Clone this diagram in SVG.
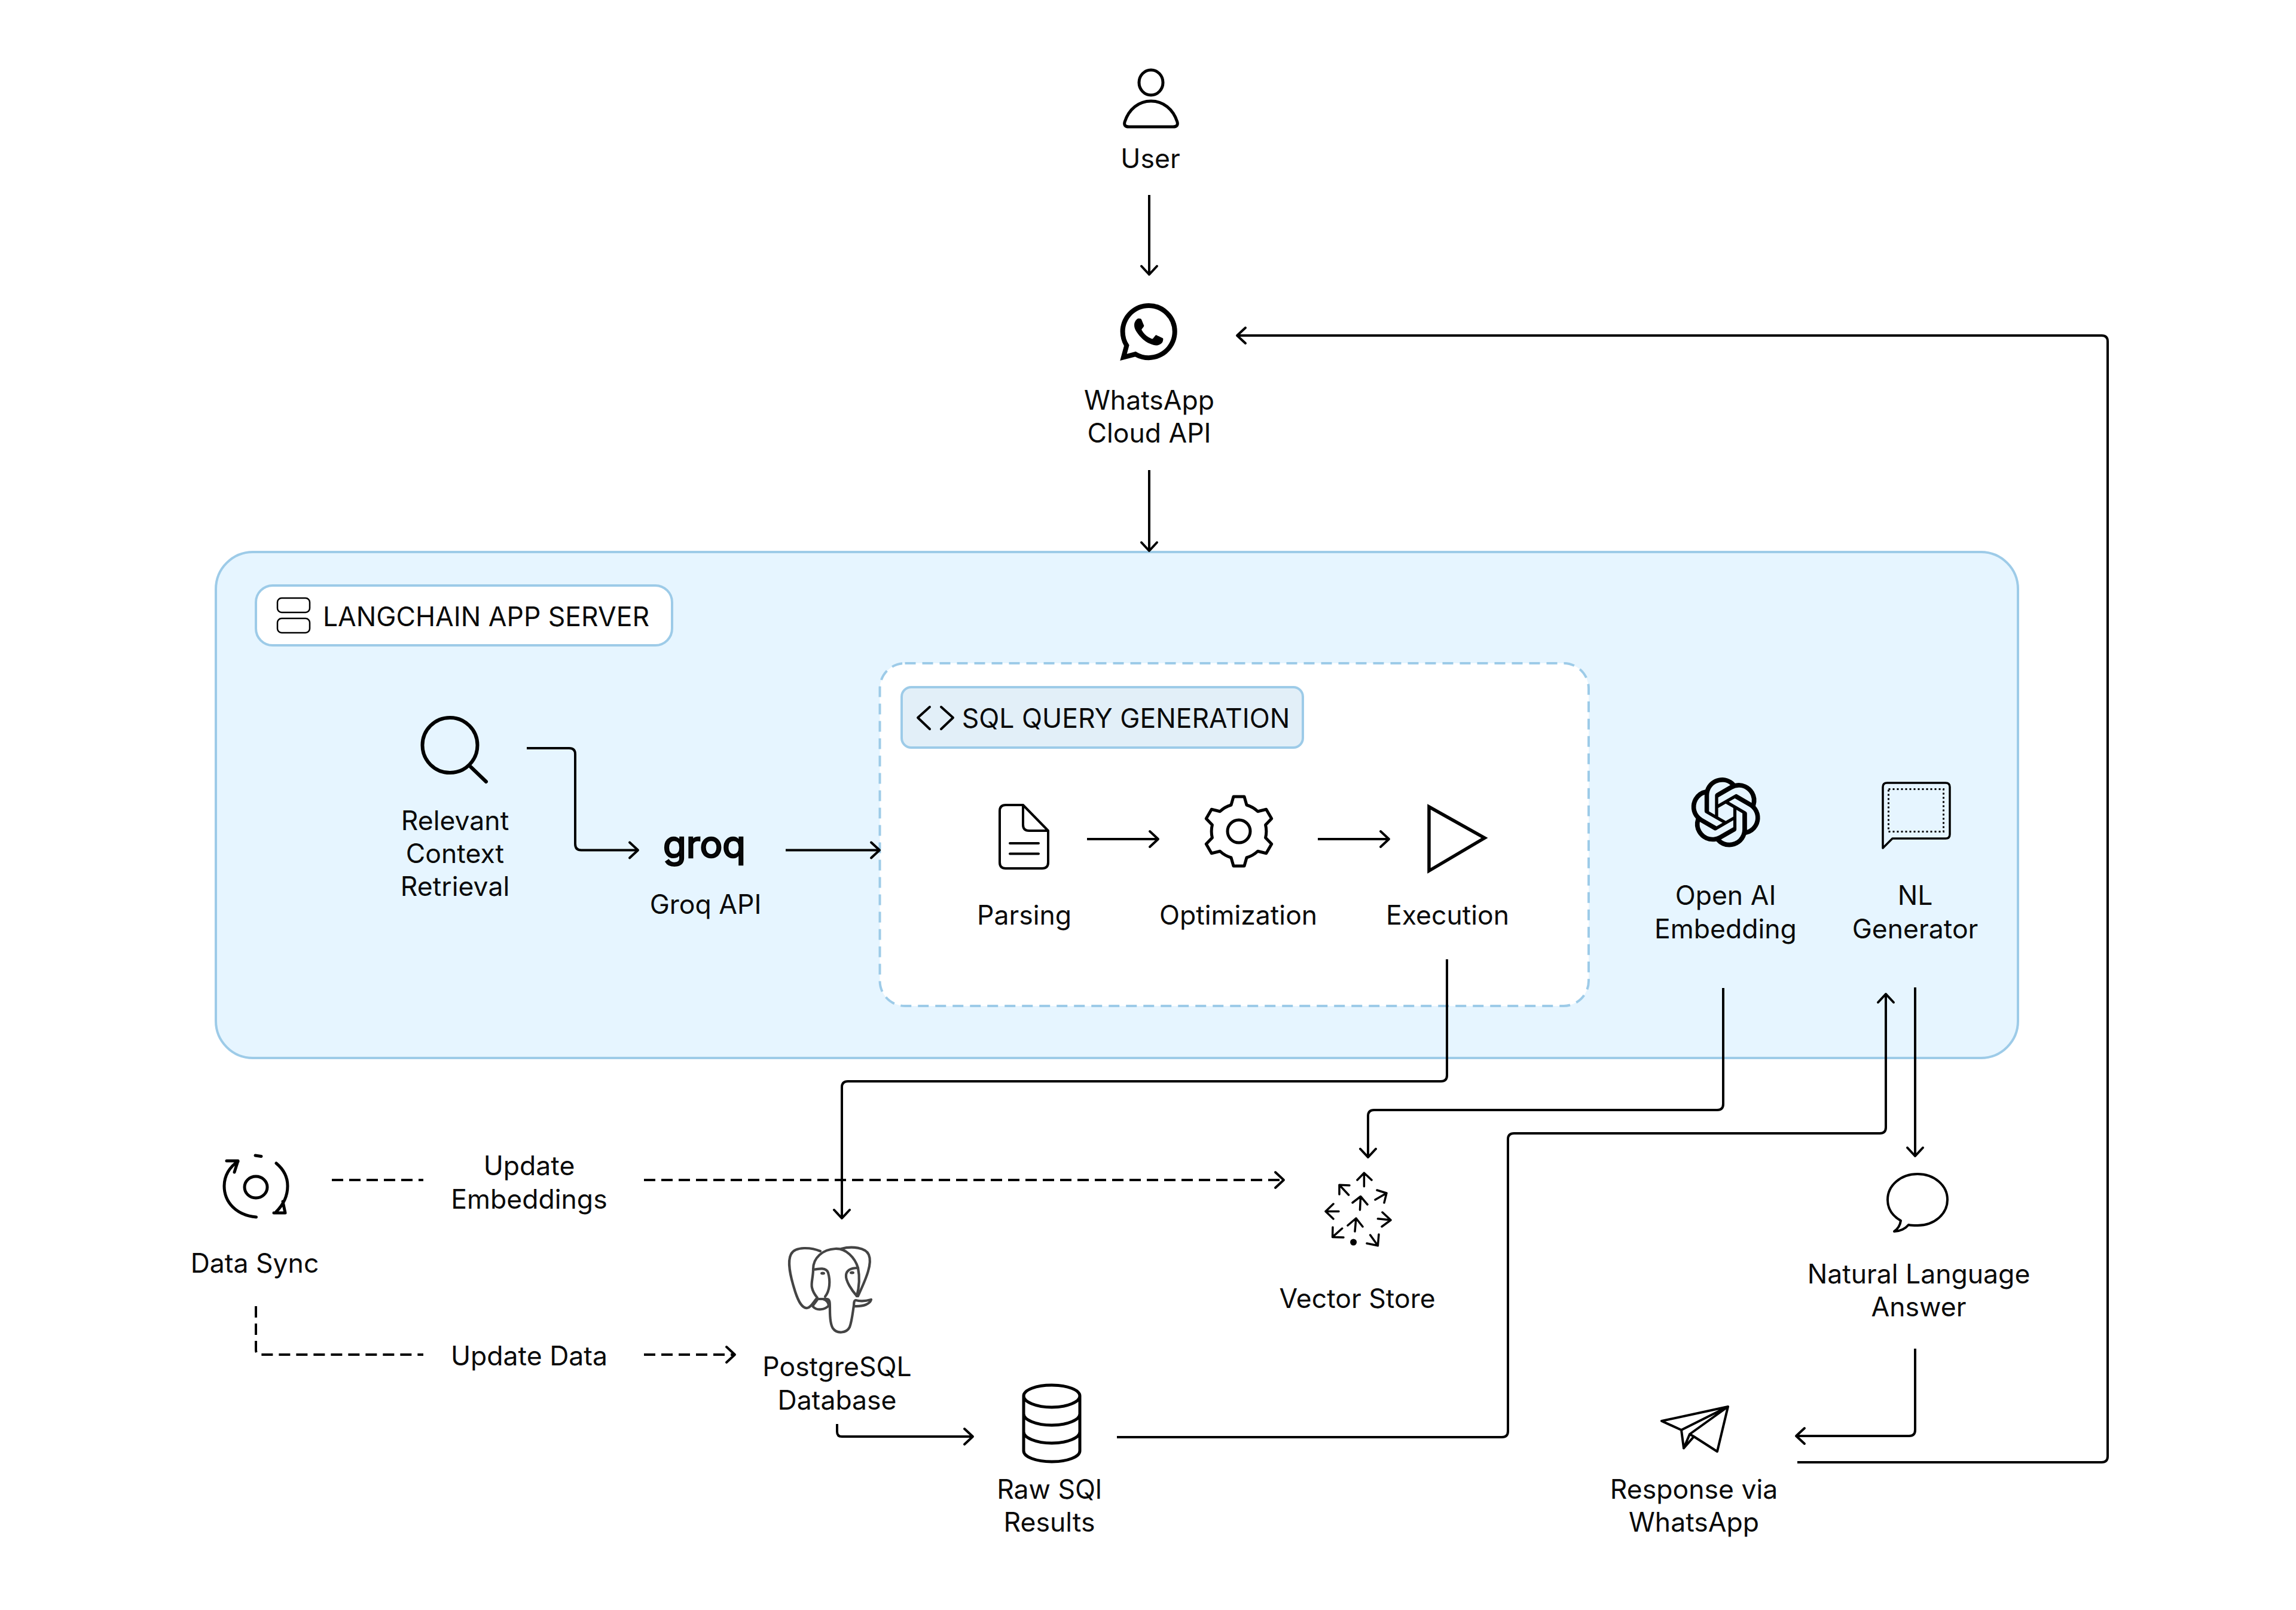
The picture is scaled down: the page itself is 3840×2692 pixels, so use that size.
<svg xmlns="http://www.w3.org/2000/svg" width="3840" height="2692" viewBox="0 0 3840 2692">
<style>
text{font-family:"Inter","Liberation Sans",sans-serif;font-size:44.5px;fill:#0a0a0a;text-anchor:middle}
.ic{fill:none;stroke:#000;stroke-width:5;stroke-linejoin:round;stroke-linecap:round}
.c{fill:none;stroke:#000;stroke-width:4}
.d{stroke-dasharray:19 10}
.box{stroke:#9DCBE8;stroke-width:4}
</style>
<defs>
<marker id="ah" markerUnits="userSpaceOnUse" markerWidth="40" markerHeight="40" refX="20" refY="20" orient="auto" viewBox="0 0 40 40"><path d="M6 7L20 20L6 33" fill="none" stroke="#000" stroke-width="4" stroke-linecap="round" stroke-linejoin="round"/></marker>
</defs>
<rect width="3840" height="2692" fill="#fff"/>
<g id="langchain-server">
<rect class="box" x="361" y="923" width="3014" height="846" rx="62" fill="#E6F5FF"/>
<rect class="box" x="428" y="979" width="696" height="100" rx="28" fill="#fff"/>
<rect x="464" y="1000" width="54" height="24" rx="7" fill="none" stroke="#000" stroke-width="2.5"/>
<rect x="464" y="1034" width="54" height="24" rx="7" fill="none" stroke="#000" stroke-width="2.5"/>
<text x="813" y="1047">LANGCHAIN APP SERVER</text>
</g>
<g id="sql-query-generation">
<rect class="box" x="1471.5" y="1109" width="1185.5" height="573" rx="42" fill="#fff" stroke-dasharray="18 11"/>
<rect class="box" x="1508" y="1149" width="671" height="101" rx="16" fill="#E2EFF8"/>
<path class="ic" d="M1555 1182L1535 1200L1555 1219M1574 1182L1594 1200L1574 1219" style="stroke-width:4"/>
<text x="1883" y="1217">SQL QUERY GENERATION</text>
</g>
<g id="connectors">
<path class="c" marker-end="url(#ah)" d="M1922 326V459"/>
<path class="c" marker-end="url(#ah)" d="M1922 786V921"/>
<path class="c" marker-end="url(#ah)" d="M881 1251H952Q962 1251 962 1261V1411Q962 1421.5 972 1421.5H1067"/>
<path class="c" marker-end="url(#ah)" d="M1314 1421.5H1471"/>
<path class="c" marker-end="url(#ah)" d="M1818 1403H1937"/>
<path class="c" marker-end="url(#ah)" d="M2204 1403H2323"/>
<path class="c" marker-end="url(#ah)" d="M2420 1604V1798Q2420 1808 2410 1808H1418Q1408 1808 1408 1818V2037"/>
<path class="c" marker-end="url(#ah)" d="M2882 1652V1846Q2882 1856 2872 1856H2298Q2288 1856 2288 1866V1935"/>
<path class="c" marker-end="url(#ah)" d="M1868 2403H2512Q2522 2403 2522 2393V1905Q2522 1895 2532 1895H3144Q3154 1895 3154 1885V1662"/>
<path class="c" marker-end="url(#ah)" d="M3203 1651V1933"/>
<path class="c" marker-end="url(#ah)" d="M3203 2255V2391Q3203 2401 3193 2401H3004"/>
<path class="c" marker-end="url(#ah)" d="M3006 2445H3515Q3525 2445 3525 2435V571Q3525 561 3515 561H2069"/>
<path class="c" marker-end="url(#ah)" d="M1400 2381V2394Q1400 2402 1408 2402H1627"/>
<path class="c d" d="M555 1973H708"/>
<path class="c d" marker-end="url(#ah)" d="M1077 1973H2147"/>
<path class="c d" d="M428 2184V2257Q428 2265 436 2265H708"/>
<path class="c d" marker-end="url(#ah)" d="M1077 2265H1229"/>
</g>
<g id="user">
<ellipse class="ic" cx="1925" cy="138" rx="20" ry="21"/>
<path class="ic" d="M1888 212H1962Q1971 212 1969 204C1962 182 1945 169 1925 169C1905 169 1888 182 1881 204Q1879 212 1888 212Z"/>
<text x="1924" y="281">User</text>
</g>
<g id="whatsapp-cloud-api">
<path transform="translate(1873 507) scale(4)" fill="#000" d="M17.472 14.382c-.297-.149-1.758-.867-2.03-.967-.273-.099-.471-.148-.67.15-.197.297-.767.966-.94 1.164-.173.199-.347.223-.644.075-.297-.15-1.255-.463-2.39-1.475-.883-.788-1.48-1.761-1.653-2.059-.173-.297-.018-.458.13-.606.134-.133.298-.347.446-.52.149-.174.198-.298.298-.497.099-.198.05-.371-.025-.52-.075-.149-.669-1.612-.916-2.207-.242-.579-.487-.5-.669-.51-.173-.008-.371-.01-.57-.01-.198 0-.52.074-.792.372-.272.297-1.04 1.016-1.04 2.479 0 1.462 1.065 2.875 1.213 3.074.149.198 2.096 3.2 5.077 4.487.709.306 1.262.489 1.694.625.712.227 1.36.195 1.871.118.571-.085 1.758-.719 2.006-1.413.248-.694.248-1.289.173-1.413-.074-.124-.272-.198-.57-.347m-5.421 7.403h-.004a9.87 9.87 0 01-5.031-1.378l-.361-.214-3.741.982.998-3.648-.235-.374a9.86 9.86 0 01-1.51-5.26c.001-5.45 4.436-9.884 9.888-9.884 2.64 0 5.122 1.03 6.988 2.898a9.825 9.825 0 012.893 6.994c-.003 5.45-4.437 9.884-9.885 9.884m8.413-18.297A11.815 11.815 0 0012.05 0C5.495 0 .16 5.335.157 11.892c0 2.096.547 4.142 1.588 5.945L.057 24l6.305-1.654a11.882 11.882 0 005.683 1.448h.005c6.554 0 11.89-5.335 11.893-11.893a11.821 11.821 0 00-3.48-8.413Z"/>
<text x="1922" y="685">WhatsApp</text>
<text x="1922" y="740">Cloud API</text>
</g>
<g id="relevant-context-retrieval">
<circle class="ic" cx="752.5" cy="1246" r="46" style="stroke-width:6"/>
<path class="ic" d="M787 1282L813 1307" style="stroke-width:6"/>
<text x="761" y="1388">Relevant</text>
<text x="761" y="1443">Context</text>
<text x="761" y="1498">Retrieval</text>
</g>
<g id="groq-api">
<text x="1178" y="1434" textLength="138" lengthAdjust="spacingAndGlyphs" style="font-size:62px;font-weight:400;stroke:#000;stroke-width:2.5">groq</text>
<text x="1180" y="1528">Groq API</text>
</g>
<g id="parsing">
<path class="ic" style="stroke-width:4" d="M1711 1346H1682Q1672 1346 1672 1356V1442Q1672 1452 1682 1452H1743Q1753 1452 1753 1442V1389L1711 1346V1379Q1711 1389 1721 1389H1753M1689 1410H1737M1689 1427.5H1737"/>
<text x="1713" y="1546">Parsing</text>
</g>
<g id="optimization">
<path class="ic" transform="translate(2072 1390)" d="M-13 -44L-9 -58H9L13 -44A46 46 0 0 1 31.6 -33.3L45.7 -36.8L54.7 -21.2L44.6 -10.7A46 46 0 0 1 44.6 10.7L54.7 21.2L45.7 36.8L31.6 33.3A46 46 0 0 1 13 44L9 58H-9L-13 44A46 46 0 0 1 -31.6 33.3L-45.7 36.8L-54.7 21.2L-44.6 10.7A46 46 0 0 1 -44.6 -10.7L-54.7 -21.2L-45.7 -36.8L-31.6 -33.3A46 46 0 0 1 -13 -44Z"/>
<circle class="ic" cx="2072" cy="1390" r="19"/>
<text x="2071" y="1546">Optimization</text>
</g>
<g id="execution">
<path class="ic" d="M2390 1349V1456L2483 1401Z" style="stroke-width:5.5;stroke-linejoin:miter"/>
<text x="2421" y="1546">Execution</text>
</g>
<g id="open-ai-embedding">
<path transform="translate(2828 1300) scale(4.85)" fill="#000" d="M22.2819 9.8211a5.9847 5.9847 0 0 0-.5157-4.9108 6.0462 6.0462 0 0 0-6.5098-2.9A6.0651 6.0651 0 0 0 4.9807 4.1818a5.9847 5.9847 0 0 0-3.9977 2.9 6.0462 6.0462 0 0 0 .7427 7.0966 5.98 5.98 0 0 0 .511 4.9107 6.051 6.051 0 0 0 6.5146 2.9001A5.9847 5.9847 0 0 0 13.2599 24a6.0557 6.0557 0 0 0 5.7718-4.2058 5.9894 5.9894 0 0 0 3.9977-2.9001 6.0557 6.0557 0 0 0-.7475-7.0729zm-9.022 12.6081a4.4755 4.4755 0 0 1-2.8764-1.0408l.1419-.0804 4.7783-2.7582a.7948.7948 0 0 0 .3927-.6813v-6.7369l2.02 1.1686a.071.071 0 0 1 .038.052v5.5826a4.504 4.504 0 0 1-4.4945 4.4944zm-9.6607-4.1254a4.4708 4.4708 0 0 1-.5346-3.0137l.142.0852 4.783 2.7582a.7712.7712 0 0 0 .7806 0l5.8428-3.3685v2.3324a.0804.0804 0 0 1-.0332.0615L9.74 19.9502a4.4992 4.4992 0 0 1-6.1408-1.6464zM2.3408 7.8956a4.485 4.485 0 0 1 2.3655-1.9728V11.6a.7664.7664 0 0 0 .3879.6765l5.8144 3.3543-2.0201 1.1685a.0757.0757 0 0 1-.071 0l-4.8303-2.7865A4.504 4.504 0 0 1 2.3408 7.872zm16.5963 3.8558L13.1038 8.364 15.1192 7.2a.0757.0757 0 0 1 .071 0l4.8303 2.7913a4.4944 4.4944 0 0 1-.6765 8.1042v-5.6772a.79.79 0 0 0-.407-.667zm2.0107-3.0231l-.142-.0852-4.7735-2.7818a.7759.7759 0 0 0-.7854 0L9.409 9.2297V6.8974a.0662.0662 0 0 1 .0284-.0615l4.8303-2.7866a4.4992 4.4992 0 0 1 6.6802 4.66zM8.3065 12.863l-2.02-1.1638a.0804.0804 0 0 1-.038-.0567V6.0742a4.4992 4.4992 0 0 1 7.3757-3.4537l-.142.0805L8.704 5.459a.7948.7948 0 0 0-.3927.6813zm1.0976-2.3654l2.602-1.4998 2.6069 1.4998v2.9994l-2.5974 1.4997-2.6067-1.4997Z"/>
<text x="2886" y="1513">Open AI</text>
<text x="2886" y="1569">Embedding</text>
</g>
<g id="nl-generator">
<path class="ic" style="stroke-width:3.5" d="M3149 1418V1316Q3149 1309 3156 1309H3254Q3261 1309 3261 1316V1395Q3261 1402 3254 1402H3165Z"/>
<rect x="3158.5" y="1319.5" width="92" height="71" fill="none" stroke="#000" stroke-width="3" stroke-dasharray="3 4"/>
<text x="3203" y="1513">NL</text>
<text x="3203" y="1569">Generator</text>
</g>
<g id="data-sync">
<path class="ic" d="M428.5 2035C395 2032 375 2010 375 1983C375 1966 384 1951 398 1942M379 1941H398L392 1960M462 1945C474 1955 481 1968 481 1983C481 1999 474 2014 462 2026M458 2028H477L473 2009M427 1932L437 1933.5"/>
<ellipse class="ic" cx="428" cy="1985" rx="19" ry="18"/>
<text x="426" y="2128">Data Sync</text>
</g>
<g id="update-embeddings">
<text x="885" y="1965">Update</text>
<text x="885" y="2021">Embeddings</text>
</g>
<g id="update-data">
<text x="885" y="2283">Update Data</text>
</g>
<g id="postgresql-database">
<g fill="none" stroke="#444" stroke-width="4.2" stroke-linecap="round" stroke-linejoin="round">
<path d="M1372 2092C1358 2086 1330 2083 1323 2097C1316 2110 1322 2135 1330 2160C1336 2178 1342 2188 1350 2187C1356 2186 1360 2178 1365 2172"/>
<path d="M1360 2122C1360 2103 1376 2089 1397 2088C1415 2087 1430 2103 1435 2120C1438 2135 1437 2152 1433 2167"/>
<path d="M1407 2088C1425 2083 1448 2086 1453 2098C1459 2112 1450 2135 1435 2167"/>
<path d="M1360 2123C1370 2121 1382 2119 1385 2128C1389 2142 1388 2158 1380 2168M1360 2123C1360 2135 1356 2146 1358 2153C1360 2162 1364 2166 1367 2170"/>
<path d="M1435 2120C1425 2120 1416 2122 1415 2132C1414 2142 1425 2158 1433 2167"/>
<path d="M1367 2173C1364 2178 1358 2183 1360 2185C1366 2192 1380 2190 1386 2183C1386 2178 1382 2173 1376 2172"/>
<path d="M1368 2172L1383 2172C1388 2172 1388 2178 1388 2190C1388 2205 1389 2215 1393 2221C1400 2231 1416 2229 1421 2219C1425 2208 1426 2195 1428 2183C1428 2177 1429 2174 1431 2174C1442 2177 1450 2175 1457 2173C1455 2180 1445 2185 1428 2184"/>
</g>
<ellipse cx="1376" cy="2129" rx="4" ry="2.5" fill="#444"/>
<ellipse cx="1425" cy="2128" rx="4" ry="2.5" fill="#444"/>
<text x="1400" y="2301">PostgreSQL</text>
<text x="1400" y="2357">Database</text>
</g>
<g id="raw-sql-results">
<path class="ic" d="M1712 2334V2426C1712 2436 1733 2444 1759 2444C1785 2444 1806 2436 1806 2426V2334M1712 2334C1712 2344 1733 2353 1759 2353C1785 2353 1806 2344 1806 2334C1806 2324 1785 2316 1759 2316C1733 2316 1712 2324 1712 2334ZM1712 2364C1712 2374 1733 2383 1759 2383C1785 2383 1806 2374 1806 2364M1712 2394C1712 2404 1733 2413 1759 2413C1785 2413 1806 2404 1806 2394"/>
<text x="1755" y="2506">Raw SQl</text>
<text x="1755" y="2561">Results</text>
</g>
<g id="vector-store">
<path class="ic" style="stroke-width:3.5" d="M2281.4 1983.7V1961.2M2270 1973L2281.4 1961.2L2294 1973M2255.6 1998L2240 1981.3M2240 1997L2240 1981.3L2257 1982M2300 2006L2319 1995M2303 1990L2319 1995L2315 2011M2274.5 2023L2275.6 2000.5M2262 2011L2275.6 2000.5L2287 2014M2239 2025.4H2217M2230 2013L2217 2025.4L2230 2038M2304.4 2037.8L2326 2040M2312 2027L2326 2040L2311 2051M2266 2059L2268 2037M2254 2049L2268 2037L2279 2051M2244.7 2054L2228.6 2068.4M2229 2052L2228.6 2068.4L2247 2069M2291.7 2065L2304.4 2082.8M2286 2079L2304.4 2082.8L2306 2064"/>
<circle cx="2263.6" cy="2077" r="5.5" fill="#000"/>
<text x="2270" y="2187">Vector Store</text>
</g>
<g id="natural-language-answer">
<path class="ic" style="stroke-width:4" d="M3179 2041C3165 2033 3157 2021 3157 2006C3157 1982 3179 1963 3207 1963C3235 1963 3257 1982 3257 2006C3257 2030 3235 2049 3207 2049C3201 2049 3196 2049 3192 2048C3187 2054 3178 2059 3168 2059C3174 2055 3178 2048 3179 2041Z"/>
<text x="3209" y="2146">Natural Language</text>
<text x="3209" y="2201">Answer</text>
</g>
<g id="response-via-whatsapp">
<path class="ic" style="stroke-width:4" d="M2890 2352L2779 2376L2812 2391L2816 2421.5L2833 2402L2872 2427ZM2812 2391L2890 2352M2816 2421.5L2826 2398L2890 2352M2826 2398L2833 2402"/>
<text x="2833" y="2506">Response via</text>
<text x="2833" y="2561">WhatsApp</text>
</g>
</svg>
